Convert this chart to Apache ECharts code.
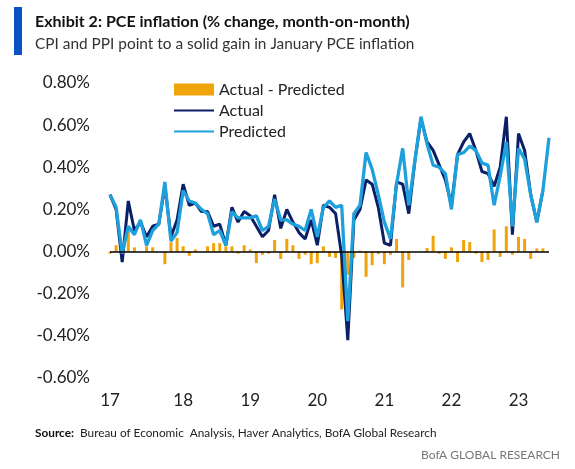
<!DOCTYPE html>
<html><head><meta charset="utf-8">
<script src="https://cdn.jsdelivr.net/npm/echarts@6/dist/echarts.min.js"></script>
<style>html,body{margin:0;padding:0;background:#fff}#c{width:575px;height:469px}</style>
</head><body><div id="c"></div>
<script>
// Monthly categories Jan-2017 .. Jan-2023
const years = [2017, 2018, 2019, 2020, 2021, 2022, 2023];
const categories = [];
years.forEach(y => { for (let m = 1; m <= 12; m++) { if (y === 2023 && m > 1) break; categories.push(y + '-' + String(m).padStart(2, '0')); } });
const tickLabels = ['17', '18', '19', '20', '21', '22', '23'];
// category index at which each tick label sits in the reference
const tickLabelIndex = [0, 12, 23, 34, 45, 56, 67];
const yTicks = [-0.6, -0.4, -0.2, 0, 0.2, 0.4, 0.6, 0.8];

const actual = [0.27,0.20,-0.05,0.24,0.10,0.14,0.07,0.12,0.13,0.31,
  0.07,0.15,0.32,0.22,0.23,0.19,0.19,0.12,0.13,0.03,
  0.21,0.14,0.19,0.17,0.12,0.07,0.10,0.27,0.11,0.20,
  0.14,0.09,0.06,0.15,0.03,0.22,0.21,0.18,-0.02,-0.42,
  0.15,0.20,0.34,0.32,0.21,0.04,0.03,0.33,0.32,0.18,
  0.43,0.63,0.52,0.48,0.41,0.34,0.22,0.46,0.52,0.56,
  0.48,0.38,0.37,0.31,0.40,0.64,0.08,0.56,0.48,0.27,0.14,0.29,null];
const predicted = [0.27,0.21,-0.01,0.12,0.08,0.15,0.03,0.10,0.13,0.33,
  0.05,0.09,0.29,0.24,0.23,0.20,0.18,0.08,0.10,0.03,
  0.19,0.16,0.16,0.16,0.17,0.10,0.12,0.25,0.15,0.15,
  0.13,0.12,0.10,0.20,0.07,0.21,0.24,0.21,0.22,-0.33,
  0.18,0.22,0.47,0.39,0.27,0.14,0.06,0.32,0.49,0.22,
  0.43,0.64,0.51,0.41,0.40,0.37,0.20,0.46,0.47,0.50,
  0.48,0.42,0.41,0.22,0.36,0.52,0.12,0.49,0.44,0.27,0.14,0.29,0.54];
const actualMinusPredicted = [-0.01,0.03,0,0.10,0.02,0,0.025,0.02,0,-0.06,
  0.045,0.065,0.025,-0.02,0.01,0,0.025,0.04,0.04,0.025,
  0.025,-0.01,0.03,0.01,-0.055,-0.015,-0.01,0.055,-0.035,0.06,
  0.03,-0.035,-0.015,-0.06,-0.055,0.025,-0.025,-0.03,-0.275,-0.11,
  -0.03,0.005,-0.12,-0.065,-0.012,-0.06,-0.015,0.06,-0.17,-0.04,
  0,0,0.017,0.075,-0.01,-0.035,0.02,-0.05,0.055,0.045,
  -0.01,-0.05,-0.04,0.105,-0.025,0.12,-0.015,0.07,0.06,-0.035,0.015,0.015,null];

const FONT = 'Lato';
const chart = echarts.init(document.getElementById('c'), null, {renderer: 'canvas'});
chart.setOption({
  animation: false,
  backgroundColor: '#ffffff',
  graphic: [
    {type: 'rect', left: 14, top: 7, shape: {width: 8, height: 48}, style: {fill: '#0a52c4'}},
    {type: 'text', left: 35, top: 14, style: {text: 'Exhibit 2: PCE inflation (% change, month-on-month)', font: 'bold 16px ' + FONT, fill: '#111'}},
    {type: 'text', left: 35, top: 37, style: {text: 'CPI and PPI point to a solid gain in January PCE inflation', font: '15.4px ' + FONT, fill: '#333'}},
    {type: 'text', left: 35, top: 427, style: {
      text: '{b|Source:}  Bureau of Economic  Analysis, Haver Analytics, BofA Global Research',
      font: '11.8px ' + FONT, fill: '#222',
      rich: {b: {fontWeight: 'bold', fontFamily: FONT, fontSize: 11.8, fill: '#111'}}}},
    {type: 'text', right: 15, top: 449, style: {text: 'BofA GLOBAL RESEARCH', font: '12px ' + FONT, fill: '#777'}}
  ],
  legend: {
    orient: 'vertical', left: 173, top: 79, padding: 0, itemWidth: 40, itemHeight: 12, itemGap: 0,
    textStyle: {fontFamily: FONT, fontSize: 16, color: '#222', lineHeight: 21},
    data: [
      {name: 'Actual - Predicted', icon: 'rect'},
      {name: 'Actual', itemStyle: {opacity: 0}},
      {name: 'Predicted', itemStyle: {opacity: 0}}
    ]
  },
  grid: {left: 110, right: 26, top: 83, bottom: 91, containLabel: false},
  xAxis: {
    type: 'category', data: categories, boundaryGap: false,
    axisLine: {show: false, onZero: false}, axisTick: {show: false}, splitLine: {show: false},
    axisLabel: {
      interval: (idx) => tickLabelIndex.indexOf(idx) >= 0, margin: 14,
      formatter: (v, idx) => tickLabels[tickLabelIndex.indexOf(idx)],
      fontFamily: FONT, fontSize: 17, color: '#222'
    }
  },
  yAxis: {
    type: 'value', min: yTicks[0], max: yTicks[yTicks.length - 1], interval: 0.2,
    axisLine: {show: false}, axisTick: {show: false}, splitLine: {show: false},
    axisLabel: {formatter: v => v.toFixed(2) + '%', fontFamily: FONT, fontSize: 17, color: '#222', margin: 20}
  },
  series: [
    {name: 'Actual - Predicted', type: 'bar', data: actualMinusPredicted, barWidth: 3,
      itemStyle: {color: '#f0a30a'},
      markLine: {silent: true, symbol: 'none', label: {show: false},
        lineStyle: {color: '#000', width: 1.5, type: 'solid'}, data: [{yAxis: 0}]}},
    {name: 'Actual', type: 'line', data: actual, symbol: 'none', showSymbol: false,
      lineStyle: {color: '#0b1f66', width: 3}, itemStyle: {color: '#0b1f66'}},
    {name: 'Predicted', type: 'line', data: predicted, symbol: 'none', showSymbol: false,
      lineStyle: {color: '#1ea0dc', width: 3.3}, itemStyle: {color: '#1ea0dc'}}
  ]
});
</script></body></html>
